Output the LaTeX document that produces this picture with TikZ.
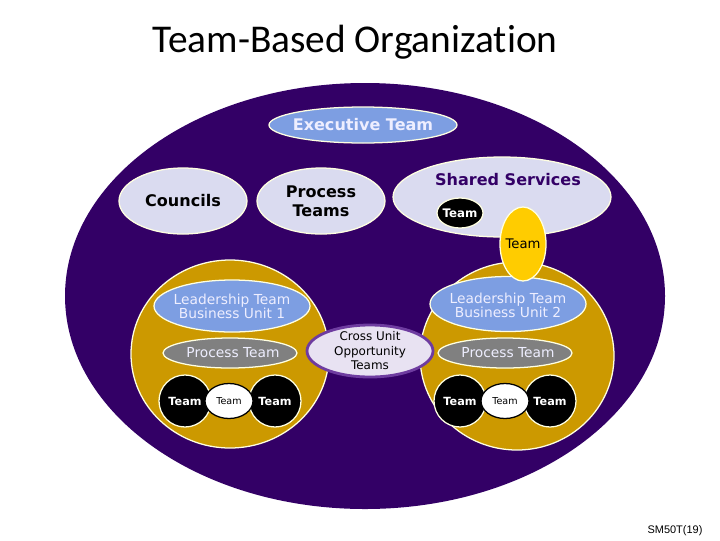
\documentclass[tikz,border=0pt]{standalone}
\usepackage{fontspec}
\setmainfont{DejaVu Sans}
\newfontfamily\titlefont[RawFeature={-liga}]{Carlito}
\newfontfamily\notefont{Liberation Sans}
\usepackage{tikz}
\usetikzlibrary{shapes.geometric}
\definecolor{deeppurple}{RGB}{51,0,102}
\definecolor{unitgold}{RGB}{204,153,0}
\definecolor{periwinkle}{RGB}{125,158,226}
\definecolor{lavender}{RGB}{218,219,240}
\definecolor{cream}{RGB}{255,255,225}
\definecolor{teamgold}{RGB}{255,204,0}
\definecolor{crossfill}{RGB}{232,226,242}
\definecolor{crossline}{RGB}{110,60,160}
\definecolor{paletext}{RGB}{238,238,255}

\begin{document}
\begin{tikzpicture}[x=0.025cm,y=-0.025cm,
	dims/.style 2 args={minimum width=#1*0.025cm,minimum height=#2*0.025cm},
	blob/.style={ellipse,draw=cream,line width=0.9pt,inner sep=0pt},
	boldword/.style={inner sep=0pt,align=center,font=\fontsize{11.4}{13.5}\selectfont\bfseries},
	thinword/.style={inner sep=0pt,align=center,font=\fontsize{9.8}{10}\selectfont},
	blackteam/.style={blob,fill=black,dims={52}{52}},
	smallteam/.style={blob,draw=black,fill=white,dims={48}{35}},
	teamword/.style={inner sep=0pt,text=white,font=\fontsize{8}{9}\selectfont\bfseries},
	tinyword/.style={inner sep=0pt,font=\fontsize{6.8}{7}\selectfont}]

	\useasboundingbox (0,0) rectangle (720,540);

	\node[anchor=base,inner sep=0pt,font=\titlefont\fontsize{28}{30}\selectfont] (title) at (355,52) {Team-Based Organization};

	% whole organization
	\node[ellipse,fill=deeppurple,inner sep=0pt,dims={600}{426}] (org) at (365,296) {};

	\node[blob,fill=periwinkle,dims={188}{36}] (exec) at (363,125) {};
	\node[boldword,text=paletext] (execT) at (exec) {Executive Team};

	\node[blob,fill=lavender,dims={128}{66}] (councils) at (183,201) {};
	\node[boldword] (councilsT) at (councils) {Councils};
	\node[blob,fill=lavender,dims={128}{66}] (proc) at (321,201) {};
	\node[boldword] (procT) at (proc) {Process\\Teams};

	\node[blob,fill=lavender,dims={218}{80}] (shared) at (502,197) {};
	\node[boldword,text=deeppurple] (sharedT) at (508,180) {Shared Services};
	\node[blob,fill=black,dims={46}{30}] (sharedteam) at (460,213) {};
	\node[inner sep=0pt,text=white,font=\fontsize{8.4}{9}\selectfont\bfseries] (sharedteamT) at (sharedteam) {Team};

	% business units
	\node[blob,fill=unitgold,dims={198}{188}] (unitA) at (230,354) {};
	\node[blob,fill=unitgold,dims={194}{188}] (unitB) at (517,356) {};

	\node[blob,fill=periwinkle,dims={156}{52}] (leadA) at (232,306) {};
	\node[thinword,text=paletext] (leadAT) at (leadA) {Leadership Team\\Business Unit 1};
	\node[blob,fill=periwinkle,dims={156}{55}] (leadB) at (508,304) {};
	\node[thinword,text=paletext] (leadBT) at (508,305) {Leadership Team\\Business Unit 2};

	\node[blob,fill=teamgold,dims={46}{74}] (goldteam) at (523,244) {};
	\node[inner sep=0pt,font=\fontsize{9.4}{10}\selectfont] (goldteamT) at (goldteam) {Team};

	\node[blob,fill=gray,dims={134}{30}] (ptA) at (230,353) {};
	\node[thinword,text=paletext] (ptAT) at (233,353) {Process Team};
	\node[blob,fill=gray,dims={134}{30}] (ptB) at (505,353) {};
	\node[thinword,text=paletext] (ptBT) at (508,353) {Process Team};

	\node[blackteam] (tA1) at (185,401) {};
	\node[blackteam] (tA2) at (275,401) {};
	\node[smallteam] (tA3) at (229,401) {};
	\node[teamword] at (tA1) {Team};
	\node[teamword] at (tA2) {Team};
	\node[tinyword] at (tA3) {Team};

	\node[blackteam] (tB1) at (460,401) {};
	\node[blackteam] (tB2) at (550,401) {};
	\node[smallteam] (tB3) at (505,401) {};
	\node[teamword] at (tB1) {Team};
	\node[teamword] at (tB2) {Team};
	\node[tinyword] at (tB3) {Team};

	\node[ellipse,draw=crossline,line width=2pt,fill=crossfill,inner sep=0pt,dims={126}{52}] (cross) at (370,351) {};
	\node[inner sep=0pt,align=center,font=\fontsize{8.5}{10.3}\selectfont] (crossT) at (cross) {Cross Unit\\Opportunity\\Teams};

	\node[inner sep=0pt,font=\notefont\fontsize{7.8}{9}\selectfont] (note) at (675,531) {SM50T(19)};

\end{tikzpicture}
\end{document}
